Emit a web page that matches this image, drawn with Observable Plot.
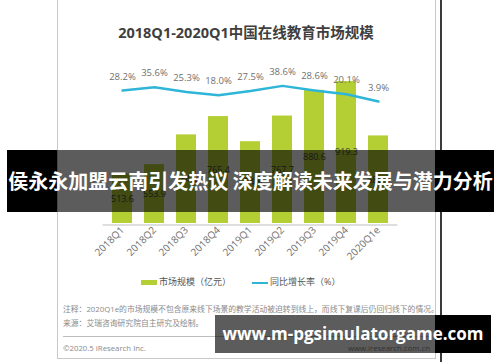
<!DOCTYPE html>
<html>
<head>
<meta charset="utf-8">
<script src="https://cdn.jsdelivr.net/npm/d3@7"></script>
<script src="https://cdn.jsdelivr.net/npm/@observablehq/plot@0.6"></script>
<style>
  html, body { margin: 0; padding: 0; background: #fff; }
  #wrap { position: relative; width: 500px; height: 362px; overflow: hidden; background: #fff;
          font-family: "Open Sans", "Noto Sans CJK SC", sans-serif; }
  .abs { position: absolute; white-space: nowrap; }
  #frame { left: 57px; top: -2px; width: 377px; height: 359px; border: 1px solid #c8c8c8; }
  #darkline { left: 440px; top: 0; width: 2px; height: 362px; background: #3a3a3a; }
  #title { left: 0; width: 492px; top: 21px; text-align: center; font-size: 14.5px; font-weight: bold; color: #3f3f3f; }
  #chart { left: 0; top: 0; }
  .legend { top: 275px; font-size: 9px; color: #555; line-height: 14px; }
  .note { left: 63px; font-size: 7.8px; color: #8a8a8a; line-height: 10px; }
  #sep { left: 63px; top: 336px; width: 368px; height: 1px; background: #bdbdbd; }
  .band { background: #000; }
  .bandT { background: rgba(0,0,0,0.64); }
  #headline { left: 5px; width: 491px; top: 150px; height: 62px; line-height: 62px; text-align: center;
              color: #fff; font-weight: bold; font-size: 20px; font-family: "Noto Sans CJK SC", sans-serif; }
  #mark { left: 215px; width: 276px; top: 315px; height: 38px; line-height: 38px; text-align: center;
          color: #fff; font-weight: bold; font-size: 17px; font-family: "Open Sans", sans-serif; }
</style>
</head>
<body>
<div id="wrap">
  <div id="frame" class="abs"></div>
  <div id="darkline" class="abs"></div>
  <div id="title" class="abs">2018Q1-2020Q1中国在线教育市场规模</div>
  <div id="chart" class="abs"></div>
  <div class="abs" style="left:141px;top:280px;width:16px;height:5px;background:#b4cf33"></div>
  <div class="abs legend" style="left:159px">市场规模（亿元）</div>
  <div class="abs" style="left:252px;top:281.5px;width:16px;height:2px;background:#2fb5d8"></div>
  <div class="abs legend" style="left:270px">同比增长率（%）</div>
  <div class="abs note" style="top:304px">注释：2020Q1e的市场规模不包含原来线下场景的教学活动被迫转到线上，而线下复课后仍回归线下的情况。</div>
  <div class="abs note" style="top:318px">来源：艾瑞咨询研究院自主研究及绘制。</div>
  <div id="sep" class="abs"></div>
  <div class="abs note" style="top:343px">©2020.5 iResearch Inc.</div>
  <div class="abs note" style="top:343px;left:auto;right:70px">www.iresearch.com.cn</div>

  <div class="abs band" style="left:7px;top:150px;width:50px;height:62px"></div>
  <div class="abs bandT" style="left:57px;top:150px;width:378px;height:62px"></div>
  <div class="abs band" style="left:435px;top:150px;width:59px;height:62px"></div>
  <div id="headline" class="abs">侯永永加盟云南引发热议 深度解读未来发展与潜力分析</div>

  <div class="abs bandT" style="left:215px;top:315px;width:220px;height:38px"></div>
  <div class="abs band" style="left:435px;top:315px;width:56px;height:38px"></div>
  <div id="mark" class="abs">www.m-pgsimulatorgame.com</div>
</div>
<script>
// ---- data ----
const quarters = ["2018Q1","2018Q2","2018Q3","2018Q4","2019Q1","2019Q2","2019Q3","2019Q4","2020Q1e"];
const marketSize = [513.6, 553.9, 684.8, 765.4, 654.8, 767.7, 880.6, 919.3, 680.3];   // 亿元
const growthRate = [28.2, 35.6, 25.3, 18.0, 27.5, 38.6, 28.6, 20.1, 3.9];            // %

const yMin = 295, yMax = 1012;
// secondary axis for growth rate, expressed in the primary scale's units
const growthToY = g => 823.6 + 1.988 * g;

const rows = quarters.map((q, i) => ({q, value: marketSize[i], growth: growthRate[i]}));

const chart = Plot.plot({
  width: 500,
  height: 362,
  marginLeft: 102.5,
  marginRight: 102.5,
  marginTop: 60,
  marginBottom: 139,
  style: {fontFamily: '"Open Sans", "Noto Sans CJK SC", sans-serif', color: "#666", background: "transparent"},
  x: {domain: quarters, paddingInner: 0.36, paddingOuter: 0.18, axis: null},
  y: {domain: [yMin, yMax], axis: null},
  marks: [
    Plot.barY(rows, {x: "q", y1: yMin, y2: "value", fill: "#b4cf33"}),
    Plot.ruleY([yMin], {stroke: "#bdbdbd", strokeWidth: 1, dy: 1.5}),
    Plot.text(rows, {x: "q", y: d => (d.value + yMin) / 2, text: d => d.value.toFixed(1), fontSize: 9, fill: "#444"}),
    Plot.line(rows, {x: "q", y: d => growthToY(d.growth), stroke: "#2fb5d8", strokeWidth: 2.5}),
    Plot.text(rows, {x: "q", y: d => growthToY(d.growth), dy: -14, text: d => d.growth.toFixed(1) + "%", fontSize: 9.5, fill: "#707070"}),
    Plot.axisX({tickRotate: -45, tickSize: 0, tickPadding: 5, fontSize: 10, fill: "#707070", label: null})
  ]
});
document.getElementById("chart").appendChild(chart);
</script>
</body>
</html>
